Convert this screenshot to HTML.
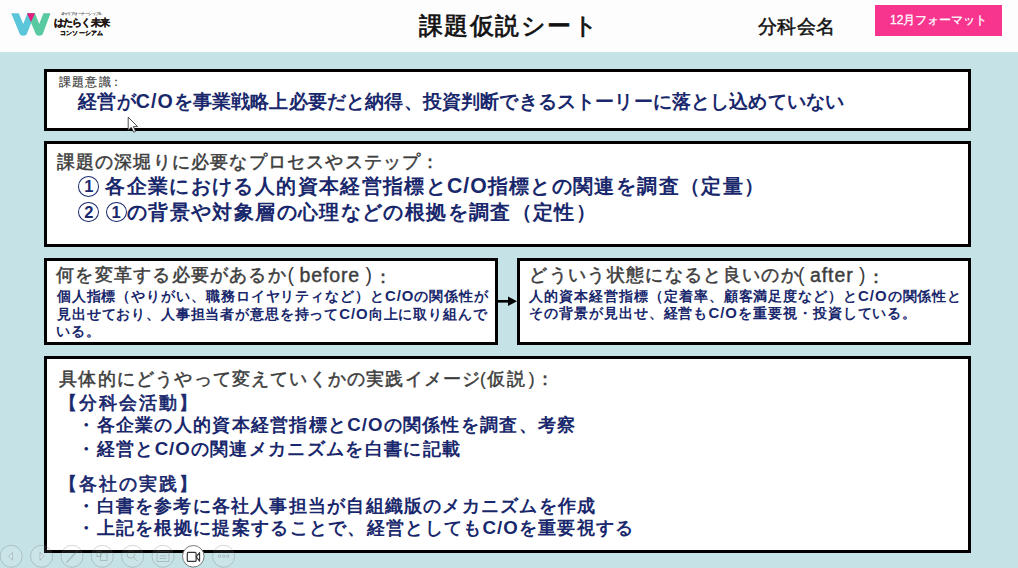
<!DOCTYPE html>
<html lang="ja">
<head>
<meta charset="utf-8">
<style>
html,body{margin:0;padding:0;background:#c5e3e6;}
body{width:1018px;height:568px;overflow:hidden;position:relative;background:#c5e3e6;font-family:"Liberation Sans",sans-serif;}
.hdr{position:absolute;left:0;top:0;width:1018px;height:52px;background:#fdfdfd;}
.box{position:absolute;box-sizing:border-box;border:3px solid #000;background:#fff;}
.t{position:absolute;white-space:nowrap;line-height:1;}
.g{color:#3d3d3d;-webkit-text-stroke:0.5px #3d3d3d;}
.E{font-size:19.5px;letter-spacing:0;font-weight:normal;-webkit-text-stroke:0;position:relative;top:-1px;}
.E b{font-weight:normal;letter-spacing:0.9px;-webkit-text-stroke:0.4px #3d3d3d;}
.K{margin-left:2px;}
.E2{letter-spacing:0;-webkit-text-stroke:0.2px #3d3d3d;}
.b{color:#19286c;font-weight:bold;}
.n{font-weight:normal;-webkit-text-stroke:0.7px #19286c;}
.L{letter-spacing:1px;font-size:1.05em;}
.cn{position:absolute;box-sizing:border-box;width:21px;height:20.6px;border:1.1px solid #19286c;border-radius:50%;text-align:center;font-weight:bold;font-size:16.5px;line-height:19px;color:#19286c;}
</style>
</head>
<body>
<div class="hdr"></div>
<svg style="position:absolute;left:0;top:0" width="60" height="45" viewBox="0 0 60 45">
<path d="M11.2,13.3 L18.8,13.3 L23.2,24 L27.5,13.3 L35,13.3 L26.6,34.4 Q23.3,37.3 20,34.4 Z" fill="#5bc5d9"/>
<path d="M27,13.3 L35,13.3 L39.2,24 L43.4,13.3 L50.5,13.3 L42.6,34.4 Q39.3,37.3 36,34.4 Z" fill="#58c9a0"/>
<polygon points="27,13.3 35,13.3 31,22" fill="#e8197e"/>
</svg>
<div class="t" style="left:60.5px;top:11.6px;font-size:4px;letter-spacing:-0.55px;color:#444;-webkit-text-stroke:0.1px #444;">キャリアオーナーシップ＆</div>
<div class="t" style="left:53.5px;top:18px;font-size:9.6px;letter-spacing:-0.7px;font-weight:bold;color:#231815;-webkit-text-stroke:0.3px #231815;">はたらく未来</div>
<div class="t" style="left:60px;top:30.3px;font-size:6px;letter-spacing:0.2px;font-weight:bold;color:#231815;-webkit-text-stroke:0.25px #231815;">コンソーシアム</div>
<div class="t" style="left:419px;top:13.5px;font-size:23.8px;letter-spacing:1.45px;color:#111;-webkit-text-stroke:0.75px #111;">課題仮説シート</div>
<div class="t" style="left:758px;top:17px;font-size:19px;letter-spacing:0.3px;color:#111;-webkit-text-stroke:0.5px #111;">分科会名</div>
<div style="position:absolute;left:875px;top:5px;width:127px;height:31px;background:#f7348e;"></div>
<div class="t" style="left:890px;top:14px;font-size:12px;color:#fff;-webkit-text-stroke:0.3px #fff;">12月フォーマット</div>
<div class="box" style="left:44px;top:69px;width:927px;height:62px;"></div>
<div class="box" style="left:44px;top:141px;width:927px;height:106px;"></div>
<div class="box" style="left:44px;top:258px;width:454px;height:87px;"></div>
<div class="box" style="left:517px;top:258px;width:454px;height:87px;"></div>
<div class="box" style="left:44px;top:356px;width:927px;height:197px;"></div>
<svg style="position:absolute;left:497px;top:295px" width="22" height="14" viewBox="0 0 22 14">
<rect x="0" y="5" width="13" height="2.6" fill="#000"/>
<polygon points="11,1.5 20,6.3 11,11" fill="#000"/>
</svg>
<div class="cn" style="left:78.3px;top:176.3px;">1</div>
<div class="cn" style="left:78.3px;top:201.8px;">2</div>
<div class="cn" style="left:105.6px;top:201.8px;">1</div>
<div class="t g" id="kadai" style="left:59.00px;top:76.20px;font-size:11.70px;letter-spacing:1.20px;-webkit-text-stroke:0.2px #444;color:#444;">課題意識<span style="letter-spacing:0;margin-left:-2px">：</span></div>
<div class="t b" id="l1" style="left:78.30px;top:91.60px;font-size:18.70px;letter-spacing:0.16px;">経営が<span class="L">C/O</span>を事業戦略上必要だと納得、投資判断できるストーリーに落とし込めていない</div>
<div class="t g" id="h2" style="left:56.70px;top:153.05px;font-size:18.40px;letter-spacing:1.19px;">課題の深堀りに必要なプロセスやステップ：</div>
<div class="t b" id="l2a" style="left:105.40px;top:175.25px;font-size:20.20px;letter-spacing:1.35px;">各企業における人的資本経営指標と<span class="L">C/O</span>指標との関連を調査（定量）</div>
<div class="t b" id="l2b" style="left:127.00px;top:201.75px;font-size:20.20px;letter-spacing:1.37px;">の背景や対象層の心理などの根拠を調査（定性）</div>
<div class="t g" id="h3" style="left:56.20px;top:266.65px;font-size:17.50px;letter-spacing:1.23px;">何を変革する必要があるか</div>
<div class="t g" id="h3b" style="left:287.50px;top:266.65px;font-size:17.50px;letter-spacing:0.00px;"><span class="E">( <b>before</b> )</span><span class="K">：</span></div>
<div class="t b" id="b3a" style="left:56.70px;top:288.50px;font-size:14.20px;letter-spacing:0.92px;">個人指標（やりがい、職務ロイヤリティなど）と<span class="L">C/O</span>の関係性が</div>
<div class="t b" id="b3b" style="left:57.00px;top:306.80px;font-size:14.20px;letter-spacing:0.85px;">見出せており、人事担当者が意思を持って<span class="L">C/O</span>向上に取り組んで</div>
<div class="t b" id="b3c" style="left:55.70px;top:324.10px;font-size:14.20px;letter-spacing:1.02px;">いる。</div>
<div class="t g" id="h4" style="left:529.40px;top:267.40px;font-size:17.50px;letter-spacing:1.32px;">どういう状態になると良いのか</div>
<div class="t g" id="h4b" style="left:798.10px;top:267.40px;font-size:17.50px;letter-spacing:0.00px;"><span class="E">( <b>after</b> )</span><span class="K">：</span></div>
<div class="t b" id="b4a" style="left:529.40px;top:288.50px;font-size:14.20px;letter-spacing:0.94px;">人的資本経営指標（定着率、顧客満足度など）と<span class="L">C/O</span>の関係性と</div>
<div class="t b" id="b4b" style="left:529.00px;top:305.80px;font-size:14.20px;letter-spacing:0.95px;">その背景が見出せ、経営も<span class="L">C/O</span>を重要視・投資している。</div>
<div class="t g" id="h5" style="left:59.20px;top:370.50px;font-size:17.50px;letter-spacing:1.19px;">具体的にどうやって変えていくかの実践イメージ</div>
<div class="t g" id="h5b" style="left:480.00px;top:370.50px;font-size:17.50px;letter-spacing:0.00px;"><span class="E2">(</span><span style="letter-spacing:2.4px;margin-left:1px">仮説</span><span class="E2" style="margin-left:1px">)</span><span style="margin-left:1.5px">：</span></div>
<div class="t b n" id="p1" style="left:58.60px;top:393.55px;font-size:18.10px;letter-spacing:2.02px;">【分科会活動】</div>
<div class="t b" id="p2" style="left:77.30px;top:416.45px;font-size:17.80px;letter-spacing:1.29px;">・各企業の人的資本経営指標と<span class="L">C/O</span>の関係性を調査、考察</div>
<div class="t b" id="p3" style="left:77.30px;top:440.00px;font-size:17.80px;letter-spacing:1.33px;">・経営と<span class="L">C/O</span>の関連メカニズムを白書に記載</div>
<div class="t b n" id="p4" style="left:58.60px;top:474.60px;font-size:18.10px;letter-spacing:2.02px;">【各社の実践】</div>
<div class="t b" id="p5" style="left:77.30px;top:498.00px;font-size:17.80px;letter-spacing:1.22px;">・白書を参考に各社人事担当が自組織版のメカニズムを作成</div>
<div class="t b" id="p6" style="left:77.30px;top:518.80px;font-size:17.80px;letter-spacing:1.30px;">・上記を根拠に提案することで、経営としても<span class="L">C/O</span>を重要視する</div>
<svg style="position:absolute;left:0;top:538px" width="240" height="30" viewBox="0 538 240 30">
<g fill="rgba(255,255,255,0.08)" stroke="rgba(90,90,90,0.28)" stroke-width="0.9">
<circle cx="11.2" cy="556.3" r="11"/>
<circle cx="41.5" cy="556.3" r="11"/>
<circle cx="72" cy="556.3" r="11"/>
<circle cx="102.3" cy="556.3" r="11"/>
<circle cx="132.6" cy="556.3" r="11"/>
<circle cx="163" cy="556.3" r="11"/>
<circle cx="223.6" cy="556.3" r="11"/>
</g>
<g fill="none" stroke="rgba(90,90,90,0.28)" stroke-width="1">
<path d="M12.5,552.5 L8.5,556.3 L12.5,560.2 Z" fill="rgba(255,255,255,0.25)"/>
<path d="M40,552.5 L44,556.3 L40,560.2 Z" fill="rgba(255,255,255,0.25)"/>
<path d="M77,550.5 L67.5,561 L66.5,562.5 L68,561.5 L77.8,551.2 Z"/>
<rect x="97" y="551.5" width="4" height="5"/><rect x="100.5" y="553" width="6.5" height="7.5"/>
<circle cx="130.8" cy="554.5" r="3.8"/><path d="M133.5,557.3 L137.5,561.3"/>
<rect x="157" y="551.5" width="12" height="10"/><path d="M159.5,556 H166.5 M159.5,558.5 H166.5"/>
<circle cx="219.5" cy="556.3" r="1.2"/><circle cx="223.6" cy="556.3" r="1.2"/><circle cx="227.7" cy="556.3" r="1.2"/>
</g>
<circle cx="193.3" cy="556.3" r="10.8" fill="#fff" stroke="#6a6a6a" stroke-width="0.9"/>
<rect x="187.3" y="552.4" width="8.8" height="9" rx="1" fill="none" stroke="#333" stroke-width="1.2"/>
<path d="M196.2,556.9 L199.6,552.6 L199.6,561.2 Z" fill="none" stroke="#333" stroke-width="1.1" stroke-linejoin="round"/>
</svg>
<svg style="position:absolute;left:126px;top:116px" width="14" height="18" viewBox="0 0 14 18">
<path d="M2.2,1.2 L2.2,14.2 L5.3,11.3 L7.6,16.2 L9.6,15.3 L7.4,10.6 L11.6,10.6 Z" fill="#fff" stroke="#222" stroke-width="0.8" stroke-linejoin="miter"/>
</svg>
</body>
</html>
